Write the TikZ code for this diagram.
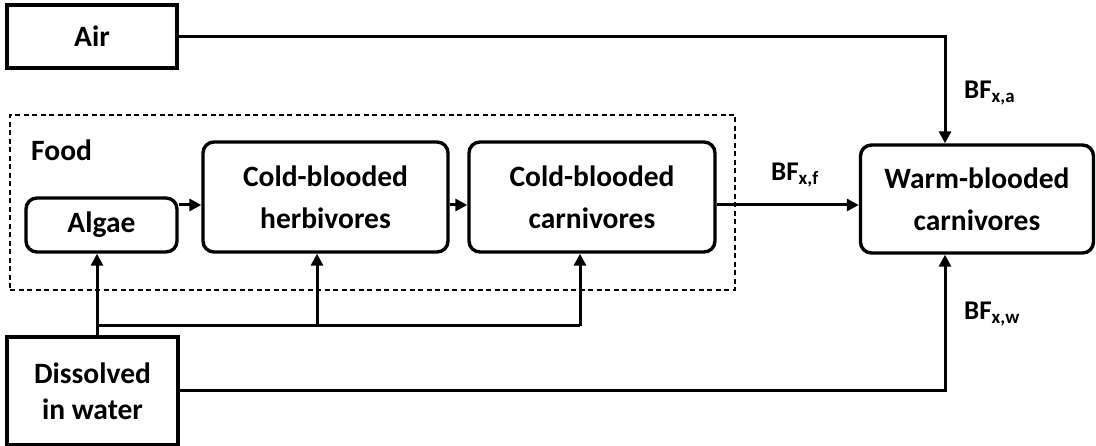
\documentclass[tikz,border=0pt]{standalone}
\usepackage{fontspec}
\setmainfont{Carlito}
\usetikzlibrary{arrows.meta,calc}
\begin{document}
\begin{tikzpicture}[x=1pt,y=-1pt,
  every node/.style={font=\fontsize{29.5}{42}\selectfont\bfseries, inner sep=0pt},
  sqbox/.style={draw, line width=3.4pt, align=center},
  rbox/.style={draw, line width=3.4pt, rounded corners=11pt, align=center},
  foodframe/.style={draw, line width=2.2pt, dash pattern=on 5pt off 3.5pt},
  arr/.style={line width=3pt, -{Triangle[length=12pt,width=12pt]}},
  ln/.style={line width=3pt},
  lbl/.style={anchor=west, font=\fontsize{27}{30}\selectfont\bfseries}]
\useasboundingbox (0,0) rectangle (1096,446);
\node[foodframe, minimum width=725pt, minimum height=175pt] (foodbox) at (372.5,202.5) {};
\node[anchor=west] (food) at (31,150) {Food};
\node[sqbox, minimum width=170pt, minimum height=63pt] (air) at (92,36.5) {Air};
\node[sqbox, minimum width=171pt, minimum height=108pt, font=\fontsize{29.5}{36}\selectfont\bfseries] (diss) at (92.5,391) {Dissolved\\in water};
\node[rbox, minimum width=151pt, minimum height=54pt] (algae) at (101.5,225) {Algae};
\node[rbox, minimum width=245pt, minimum height=110pt] (herb) at (325.5,197) {Cold-blooded\\herbivores};
\node[rbox, minimum width=246pt, minimum height=110pt] (carn) at (592,197) {Cold-blooded\\carnivores};
\node[rbox, minimum width=233pt, minimum height=108pt] (warm) at (977,199) {Warm-blooded\\carnivores};
\coordinate (ay) at (0,205);
\coordinate (xa) at (945,0);
\coordinate (dx) at (97,326);
\coordinate (hx) at (317,326);
\coordinate (cx) at (580,326);
\draw[arr] (algae.east |- ay) -- (herb.west |- ay);
\draw[arr] (herb.east |- ay) -- (carn.west |- ay);
\draw[arr] (carn.east |- ay) -- (warm.west |- ay);
\draw[arr] (air.east) -| (xa |- warm.north);
\draw[arr] (diss.east) -| (xa |- warm.south);
\draw[arr] (diss.north -| dx) -- (algae.south -| dx);
\draw[ln] (dx) -- (cx);
\draw[arr] (hx) -- (herb.south -| hx);
\draw[arr] (cx) -- (carn.south -| cx);
\node[lbl] (bff) at (771,175) {BF\textsubscript{x,f}};
\node[lbl] (bfa) at (964,93) {BF\textsubscript{x,a}};
\node[lbl] (bfw) at (964,314) {BF\textsubscript{x,w}};
\end{tikzpicture}
\end{document}
